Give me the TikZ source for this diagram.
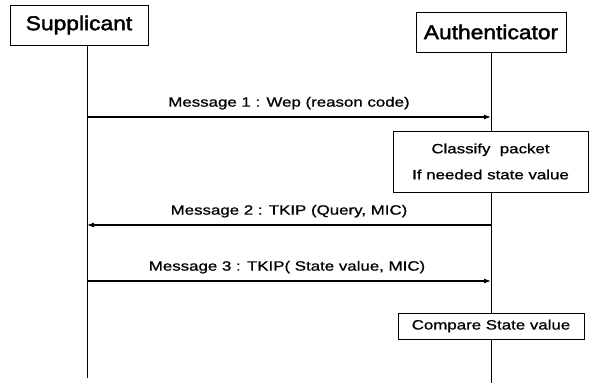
\documentclass[tikz,border=0pt]{standalone}
\usepackage{fontspec}
\usetikzlibrary{arrows.meta}
\newfontfamily\titlefont[FakeStretch=1.14,FakeBold=2]{Liberation Sans}
\newfontfamily\msgfont[FakeStretch=1.25,FakeBold=0.8]{Liberation Sans}
\begin{document}
\begin{tikzpicture}[x=1pt,y=-1pt,
  actor/.style={draw,line width=0.9pt,fill=white,inner sep=0pt,
    font=\titlefont\fontsize{20}{24}\selectfont},
  action/.style={draw,line width=0.9pt,fill=white,inner sep=0pt,align=center,
    font=\msgfont\fontsize{13.5}{16}\selectfont},
  msgtext/.style={font=\msgfont\fontsize{13.5}{16}\selectfont,inner sep=0pt},
  life/.style={line width=0.9pt},
  msg/.style={line width=1.1pt,-{Latex[length=7pt,width=5pt]}}]
\useasboundingbox (0,0) rectangle (598,385);

% participants
\node[actor,minimum width=138pt,minimum height=40pt] (sup) at (79,25) {Supplicant};
\node[actor,minimum width=150pt,minimum height=40pt] (auth) at (491,32) {Authenticator};

% actions on the authenticator side
\node[action,minimum width=195pt,minimum height=61pt] (cls) at (490.5,161.5)
  {Classify~~packet\\[10pt]If needed state value};
\node[action,minimum width=186pt,minimum height=26pt] (cmp) at (491,326)
  {Compare State value};

% lifelines
\coordinate (supend) at (87,378);
\coordinate (authend) at (491,383);
\draw[life] (sup.south -| supend) -- (supend);
\draw[life] (auth.south) -- (cls.north -| auth.south);
\draw[life] (cls.south -| auth.south) -- (cmp.north -| auth.south);
\draw[life] (cmp.south -| auth.south) -- (authend);

% message end points on the lifelines
\coordinate (s1) at (87,117);  \coordinate (a1) at (491,117);
\coordinate (s2) at (87,225);  \coordinate (a2) at (491,225);
\coordinate (s3) at (87,281);  \coordinate (a3) at (491,281);

% messages
\draw[msg] (s1) -- node[msgtext,above=7pt] (m1) {Message 1 : Wep (reason code)} (a1);
\draw[msg] (a2) -- node[msgtext,above=7pt] (m2) {Message 2 : TKIP (Query, MIC)} (s2);
\draw[msg] (s3) -- node[msgtext,above=7pt,xshift=-2pt] (m3) {Message 3 : TKIP( State value, MIC)} (a3);
\end{tikzpicture}
\end{document}
